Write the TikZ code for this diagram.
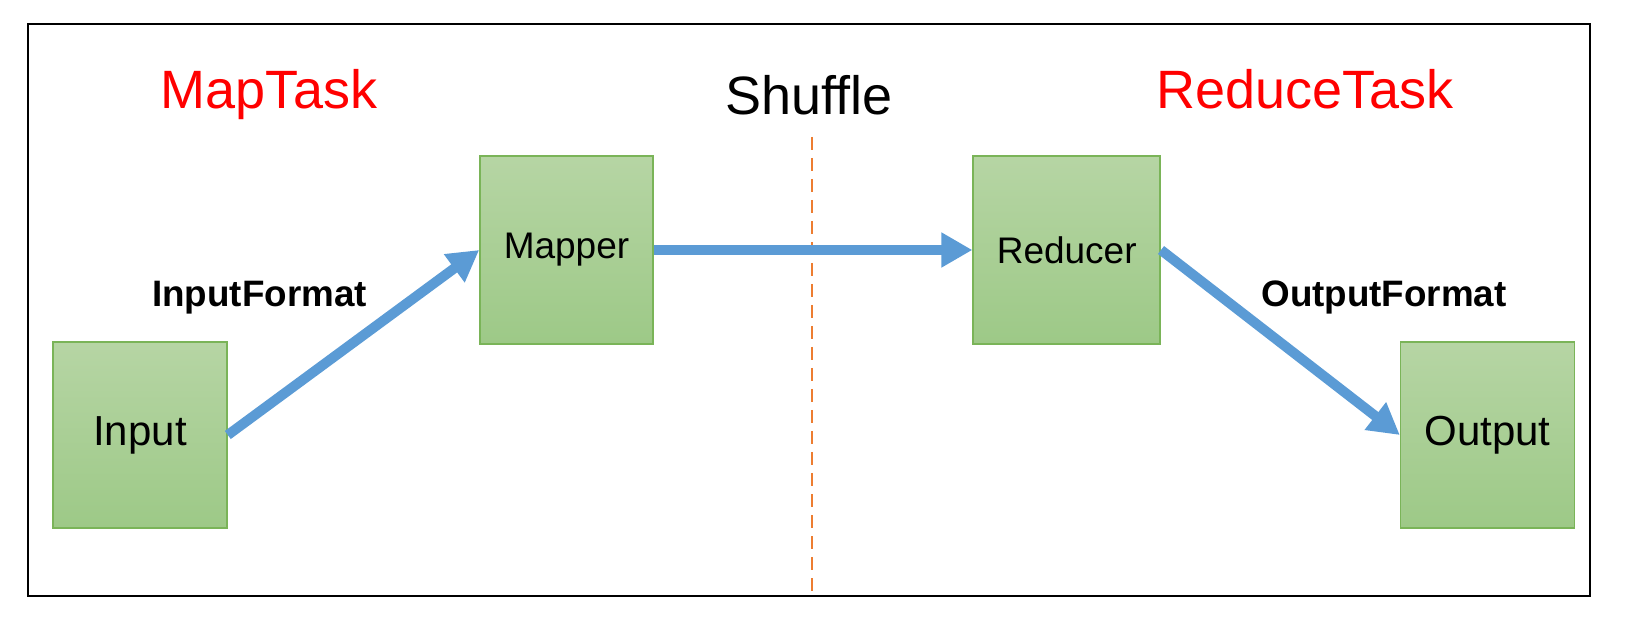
\documentclass[tikz,border=0pt]{standalone}
\usepackage{fontspec}
\setmainfont{Liberation Sans}
\usetikzlibrary{arrows.meta}
\definecolor{boxtop}{RGB}{182,213,164}
\definecolor{boxbot}{RGB}{157,201,135}
\definecolor{boxline}{RGB}{122,180,88}
\definecolor{arrblue}{RGB}{91,155,213}
\definecolor{dashorange}{RGB}{237,125,49}
\definecolor{titlered}{RGB}{255,0,0}
\tikzset{
  greenbox/.style={draw=boxline, line width=0.8pt, top color=boxtop, bottom color=boxbot,
    minimum height=93pt, inner sep=0pt, font=\fontsize{18.5pt}{22pt}\selectfont},
  flow/.style={draw=arrblue, line width=5pt, -{Triangle[length=15.5pt,width=16.5pt]}},
  title/.style={anchor=base, font=\fontsize{27pt}{32pt}\selectfont, inner sep=0pt},
  fmtlabel/.style={anchor=base, font=\bfseries\fontsize{18.4pt}{22pt}\selectfont, inner sep=0pt},
  divider/.style={draw=dashorange, line width=1.4pt, dash pattern=on 6.5pt off 4pt},
  frame/.style={draw=black, line width=1.1pt}
}
\begin{document}
\begin{tikzpicture}[x=0.5pt,y=-0.5pt]
\useasboundingbox (0,0) rectangle (1638,630);
\node[frame, minimum width=781pt, minimum height=286pt, inner sep=0pt] (frame) at (809,310) {};
\coordinate (dtop) at (812,137);
\coordinate (dbot) at (812,596);
\draw[divider] (dtop) -- (dbot);
\node[title, text=titlered] (maptask) at (269,109) {MapTask};
\node[title] (shuffle) at (809,115) {Shuffle};
\node[title, text=titlered] (reducetask) at (1305,109) {ReduceTask};
\node[greenbox, minimum width=86.5pt, minimum height=94pt] (mapper) at (566.5,250) {Mapper};
\node[greenbox, minimum width=93.5pt, minimum height=94pt] (reducer) at (1066.7,250) {Reducer};
\node[greenbox, minimum width=87pt, font=\fontsize{21pt}{25pt}\selectfont] (input) at (140,435) {Input};
\node[greenbox, minimum width=87pt, font=\fontsize{21pt}{25pt}\selectfont] (output) at (1487.6,435) {Output};
\node[fmtlabel] (inputformat) at (259.5,307) {InputFormat};
\node[fmtlabel] (outputformat) at (1384,307) {OutputFormat};
\draw[flow] (input.east) -- (mapper.west);
\draw[flow] (mapper.east) -- (reducer.west);
\draw[flow] (reducer.east) -- (output.west);
\end{tikzpicture}
\end{document}
